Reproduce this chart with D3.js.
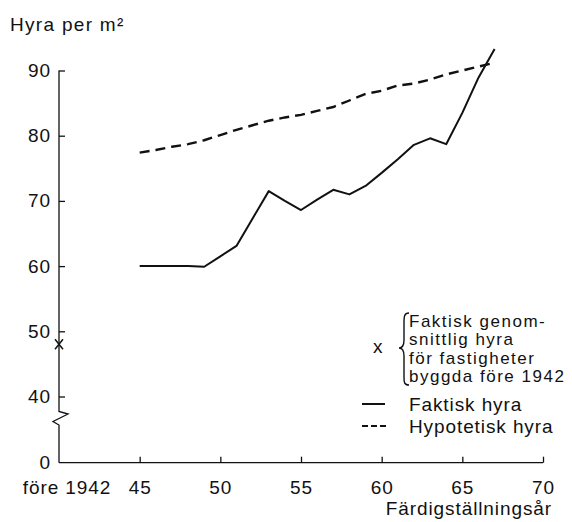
<!DOCTYPE html>
<html>
<head>
  <title>Hyra per m2</title>
  <script src="https://d3js.org/d3.v7.min.js"></script>
  <style>
    body { margin: 0; background: #fff; }
    text { font-family: "Liberation Sans", Arial, sans-serif; font-size: 19px; fill: #111; letter-spacing: 0.9px; }
    .axis path, .axis line { stroke: #111; stroke-width: 1.3px; }
    .note text { font-size: 17px; letter-spacing: 1.5px; }
  </style>
</head>
<body>
  <div id="chart"></div>
  <script>
    // Data
    const years = [45, 46, 47, 48, 49, 50, 51, 52, 53, 54, 55, 56, 57, 58, 59, 60, 61, 62, 63, 64, 65, 66, 67];
    const faktisk = [60, 60, 60, 60, 59.9, 61.5, 63.1, 67.3, 71.5, 70, 68.6, 70.2, 71.7, 71.0, 72.3, 74.3, 76.4, 78.6, 79.6, 78.7, 83.5, 88.9, 93.3];
    const hypotetisk = [77.4, 77.8, 78.3, 78.7, 79.3, 80.1, 80.9, 81.6, 82.3, 82.8, 83.2, 83.8, 84.4, 85.4, 86.4, 86.9, 87.7, 88.0, 88.6, 89.4, 90.0, 90.6, 91.2];
    const fore1942 = 48;          // Faktisk genomsnittlig hyra, byggda före 1942
    const xTicks = [45, 50, 55, 60, 65, 70];
    const yTicks = [0, 40, 50, 60, 70, 80, 90];

    const svg = d3.select("#chart").append("svg")
      .attr("width", 572)
      .attr("height", 522);

    // x: origin of the axis stands for "före 1942"
    const x = d3.scaleLinear().domain([40, 70]).range([59, 543]);
    // y is broken between 0 and 40
    const y = d3.scaleLinear().domain([0, 40, 90]).range([462.7, 396.5, 70.5]);

    // x axis
    const xAxis = svg.append("g")
      .attr("class", "axis")
      .attr("transform", "translate(0," + y(0) + ")")
      .call(d3.axisBottom(x).tickValues(xTicks).tickSize(-6).tickSizeOuter(0).tickPadding(18));
    xAxis.select(".domain").attr("d", "M" + x(40) + ",0H" + x(70));
    xAxis.selectAll("text").style("font-size", "19px").attr("font-family", null);

    xAxis.append("text")
      .attr("x", x(40) + 8)
      .attr("y", 18)
      .attr("dy", "0.71em")
      .attr("text-anchor", "middle")
      .text("före 1942");

    // y axis (domain drawn by hand to get the break)
    const yAxis = svg.append("g")
      .attr("class", "axis")
      .attr("transform", "translate(" + x(40) + ",0)")
      .call(d3.axisLeft(y).tickValues(yTicks).tickSize(-6).tickSizeOuter(0).tickPadding(8));
    yAxis.select(".domain").remove();
    yAxis.selectAll(".tick").filter(d => d === 0).select("line").remove();
    yAxis.selectAll("text").style("font-size", "19px").attr("font-family", null);

    const b = y(40) + 15;
    yAxis.append("path")
      .attr("fill", "none")
      .attr("stroke", "#111")
      .attr("stroke-width", 1.3)
      .attr("d", "M0," + y(90) + "V" + b + "L9," + (b + 2.5) + "L-6," + (b + 10) + "L0," + (b + 13.5) + "V" + y(0));

    // lines
    const pts = (vals) => years.map((yr, i) => [yr, vals[i]]);
    const line = d3.line().x(d => x(d[0])).y(d => y(d[1]));

    svg.append("path")
      .datum(pts(hypotetisk))
      .attr("fill", "none")
      .attr("stroke", "#111")
      .attr("stroke-width", 2.4)
      .attr("stroke-dasharray", "10,6")
      .attr("d", line);

    svg.append("path")
      .datum(pts(faktisk))
      .attr("fill", "none")
      .attr("stroke", "#111")
      .attr("stroke-width", 2)
      .attr("stroke-linejoin", "round")
      .attr("d", line);

    // x marker on the axis for före 1942
    const mx = x(40), my = y(fore1942);
    svg.append("path")
      .attr("stroke", "#111")
      .attr("stroke-width", 1.5)
      .attr("d", "M" + (mx - 4) + "," + (my - 5) + "L" + (mx + 4) + "," + (my + 5) +
                 "M" + (mx + 4) + "," + (my - 5) + "L" + (mx - 4) + "," + (my + 5));

    // title
    svg.append("text").attr("x", 10).attr("y", 31).style("letter-spacing", "1.3px").text("Hyra per m²");
    svg.append("text").attr("x", 552).attr("y", 515).attr("text-anchor", "end").text("Färdigställningsår");

    // legend
    const lg = svg.append("g");
    lg.append("text").attr("x", 373).attr("y", 353).text("x");
    lg.append("path")
      .attr("fill", "none")
      .attr("stroke", "#111")
      .attr("stroke-width", 1.4)
      .attr("d", "M409,313 C404,313 404,317 404,323 L404,340 C404,345 402,348 399,348 C402,348 404,351 404,356 L404,377 C404,382 404,385 409,385");
    const noteLines = ["Faktisk genom-", "snittlig hyra", "för fastigheter", "byggda före 1942"];
    const note = lg.append("g").attr("class", "note");
    noteLines.forEach((t, i) => {
      note.append("text").attr("x", 409).attr("y", 327 + i * 18.3).text(t);
    });
    lg.append("line").attr("x1", 362).attr("x2", 385).attr("y1", 404).attr("y2", 404)
      .attr("stroke", "#111").attr("stroke-width", 2);
    lg.append("text").attr("x", 409).attr("y", 411).text("Faktisk hyra");
    lg.append("line").attr("x1", 362).attr("x2", 386).attr("y1", 426).attr("y2", 426)
      .attr("stroke", "#111").attr("stroke-width", 2).attr("stroke-dasharray", "6,3");
    lg.append("text").attr("x", 409).attr("y", 433).text("Hypotetisk hyra");
  </script>
</body>
</html>
